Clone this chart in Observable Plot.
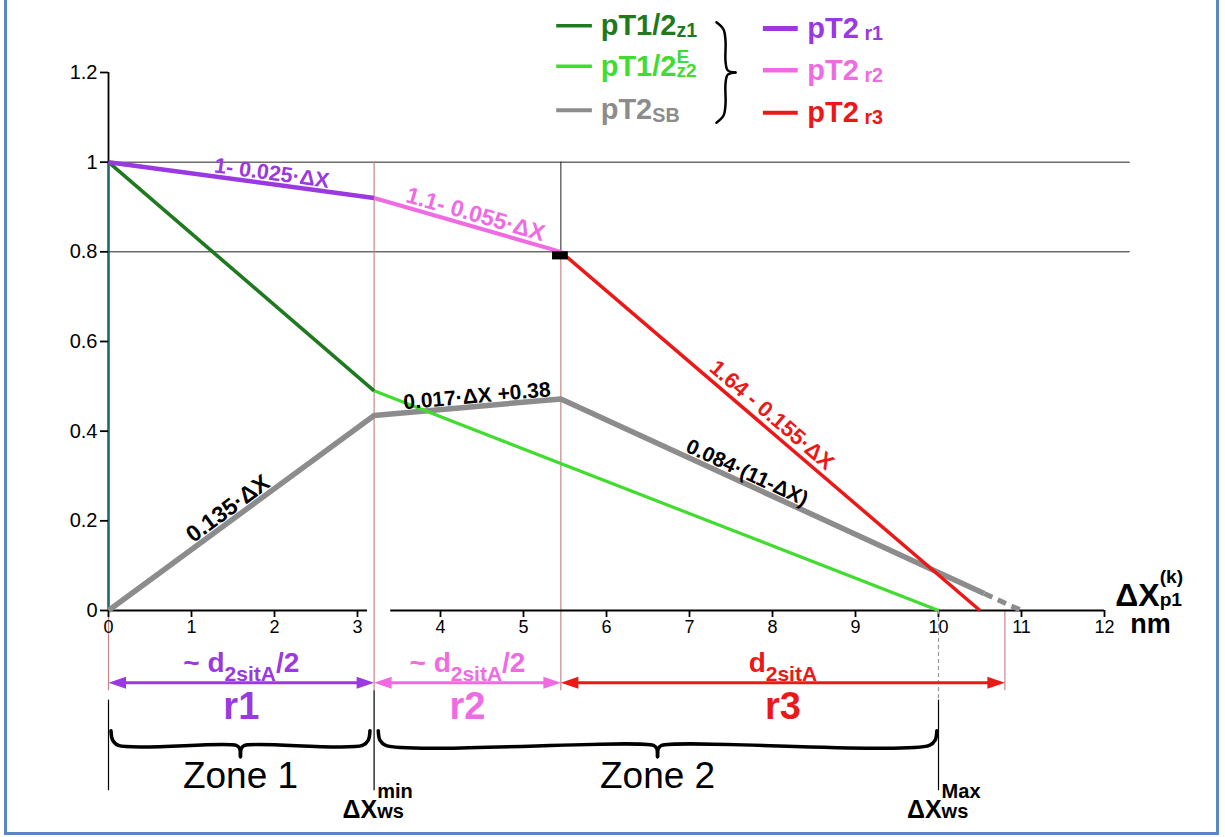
<!DOCTYPE html>
<html><head><meta charset="utf-8">
<script src="https://cdn.jsdelivr.net/npm/d3@7"></script>
<script src="https://cdn.jsdelivr.net/npm/@observablehq/plot@0.6"></script>
<style>
body{margin:0;background:#fff;}
#wrap{position:relative;width:1225px;height:837px;overflow:hidden;}
#frame{position:absolute;left:4px;top:-6px;width:1215px;height:841px;border:3px solid #5a86c8;pointer-events:none;box-sizing:border-box;}
</style></head><body><div id="wrap"><div id="chart"></div><div id="frame"></div></div>
<script>
// ---------- data ----------
const xTicks = [0,1,2,3,4,5,6,7,8,9,10,11,12];
const yTicks = [0,0.2,0.4,0.6,0.8,1,1.2];
const yTickLabels = ["0","0.2","0.4","0.6","0.8","1","1.2"];

const z1X = [0, 3.2],   z1Y = [1, 0.49];          // pT1/2 z1
const z2X = [3.2, 10],  z2Y = [0.49, 0];          // pT1/2 z2 E
const sbX = [0, 3.2, 5.45, 10.55], sbY = [0, 0.435, 0.472, 0.038]; // pT2 SB
const sbTailX = [10.55, 11], sbTailY = [0.038, 0];                 // dashed extrapolation
const r1X = [0, 3.2],    r1Y = [1, 0.92];         // pT2 r1
const r2X = [3.2, 5.45], r2Y = [0.92, 0.8];       // pT2 r2
const r3X = [5.45, 10.5], r3Y = [0.8, 0];         // pT2 r3
const refLevels = [1, 0.8];
const bounds = [0, 3.2, 5.45, 10, 10.8];          // ΔX boundaries (0, min, r2/r3, Max, end of r3)

const lineTexts = ["1- 0.025·ΔX", "1.1- 0.055·ΔX", "1.64 - 0.155·ΔX", "0.135·ΔX", "0.017·ΔX +0.38", "0.084·(11-ΔX)"];
const legendLeft = ["pT1/2_{z1}", "pT1/2^{E}_{z2}", "pT2_{SB}"];
const legendRight = ["pT2_{ r1}", "pT2_{ r2}", "pT2_{ r3}"];
const rangeTexts = ["~ d_{2sitA}/2", "~ d_{2sitA}/2", "d_{2sitA}"];
const rangeNames = ["r1", "r2", "r3"];
const zoneNames = ["Zone 1", "Zone 2"];
const wsTexts = ["ΔX^{min}_{ws}", "ΔX^{Max}_{ws}"];
const xTitle = "ΔX^{(k)}_{p1}", xUnit = "nm";

// ---------- styling ----------
const C = {dg:"#1f7a1f", lg:"#42dc30", gray:"#8c8c8c", pu:"#9a38e2", pk:"#f06ae2", rd:"#ec1818", guide:"#c98585", teal:"#1d6a6a"};
const FN = "'Liberation Sans',Arial,sans-serif";
const W=1225, H=837, mL=108, mR=121, mT=72, mB=227;
const kx=(W-mL-mR)/12, ky=(H-mT-mB)/1.2;

const series = [
  {xs:sbX, ys:sbY, color:C.gray, w:5.5},
  {xs:z2X, ys:z2Y, color:C.lg, w:3.2},
  {xs:z1X, ys:z1Y, color:C.dg, w:3.6},
  {xs:r3X, ys:r3Y, color:C.rd, w:3.5},
  {xs:r2X, ys:r2Y, color:C.pk, w:4},
  {xs:r1X, ys:r1Y, color:C.pu, w:4.5}
];
const pts = (xs, ys) => xs.map((x,i) => ({x, y: ys[i]}));

function labelPos(xs, ys, i, at, off){
  const xa=xs[i], xb=xs[i+1], ya=ys[i], yb=ys[i+1];
  const ux=(xb-xa)*kx, uy=-(yb-ya)*ky, len=Math.hypot(ux,uy);
  const nx=uy/len, ny=-ux/len;
  const y = ya + (at-xa)/(xb-xa)*(yb-ya);
  return {x: at + nx*off/kx, y: y - ny*off/ky, rotate: Math.atan2(uy,ux)*180/Math.PI};
}
const lineLabels = [
  {...labelPos(r1X,r1Y,0,1.95,4), text:lineTexts[0], color:C.pu, st:"italic", fs:21.5},
  {...labelPos(r2X,r2Y,0,4.38,5), text:lineTexts[1], color:C.pk, st:"italic", fs:23},
  {...labelPos(r3X,r3Y,0,7.89,6), text:lineTexts[2], color:C.rd, st:"italic", fs:22},
  {...labelPos(sbX,sbY,0,1.52,4), text:lineTexts[3], color:"#000", st:"normal", fs:23},
  {...labelPos(sbX,sbY,1,4.45,3.5), text:lineTexts[4], color:"#000", st:"normal", fs:21},
  {...labelPos(sbX,sbY,2,7.64,4), text:lineTexts[5], color:"#000", st:"normal", fs:21}
];

// layout levels (data units)
const yGuideBottom = -0.179, yArrow = -0.161, yRangeText = -0.138, yRangeName = -0.243;
const yBlackTop = -0.2, yBlackBottom = -0.402, yZoneText = -0.395, yWs = -0.462;

// arrows
const arrows = [
  {x1:bounds[0], x2:bounds[1], color:C.pu},
  {x1:bounds[1], x2:bounds[2], color:C.pk},
  {x1:bounds[2], x2:bounds[4], color:C.rd}
];
const heads = arrows.flatMap(a => [{x:a.x1, rot:-90, color:a.color}, {x:a.x2, rot:90, color:a.color}]);
const headSymbol = {draw(ctx, size){ const r=Math.sqrt(size/Math.PI); const L=r*2.5, w=r*0.85; ctx.moveTo(0,0); ctx.lineTo(-w,L); ctx.lineTo(w,L); ctx.closePath(); }};

// braces
function hBrace(xa, xb, yTop, yBar, yTip){
  const m=(xa+xb)/2, h=0.09, c=0.05;
  const left=[[xa,yTop],[xa+0.02,yBar+0.012],[xa+h,yBar],[m-c,yBar],[m-0.012,yBar-0.006],[m,yTip]];
  const right=[[xb,yTop],[xb-0.02,yBar+0.012],[xb-h,yBar],[m+c,yBar],[m+0.012,yBar-0.006],[m,yTip]];
  return [left, right];
}
const zoneSpans = [[0.03, 3.15], [3.25, 9.98]];
const braces = zoneSpans.flatMap(([a,b]) => hBrace(a, b, -0.268, -0.301, -0.326))
  .flatMap((p,i) => p.map(([x,y]) => ({x,y,b:i})));
const legendBrace = [[7.325,1.312],[7.41,1.296],[7.434,1.27],[7.434,1.225],[7.46,1.205],[7.554,1.2]];
const lbPts = [legendBrace, legendBrace.map(([x,y]) => [x, 2.4-y])].flatMap((p,i)=>p.map(([x,y])=>({x,y,b:i})));

// legend
const legL = [{y:1.304, color:C.dg, w:3.5},{y:1.214, color:C.lg, w:3.5},{y:1.116, color:C.gray, w:4}].map((d,i)=>({...d, text:legendLeft[i]}));
const legR = [{y:1.298, color:C.pu, w:5},{y:1.205, color:C.pk, w:4.5},{y:1.11, color:C.rd, w:4}].map((d,i)=>({...d, text:legendRight[i]}));

const chart = Plot.plot({
  width: W, height: H,
  marginLeft: mL, marginRight: mR, marginTop: mT, marginBottom: mB,
  x: {domain:[0,12]}, y: {domain:[0,1.2]},
  style: {fontFamily: FN, fontSize: "18px", color:"#000", background:"#fff"},
  marks: [
    Plot.ruleY(refLevels, {y: d=>d, x1: 0, x2: 12.31, stroke:"#222", strokeWidth:1}),
    Plot.ruleX([bounds[2]], {x: d=>d, y1: refLevels[1], y2: refLevels[0], stroke:"#222", strokeWidth:1}),
    Plot.ruleX([{x:bounds[0],t:0},{x:bounds[1],t:refLevels[0]},{x:bounds[2],t:refLevels[1]},{x:bounds[4],t:0}],
      {x:"x", y1:"t", y2:yGuideBottom, stroke:C.guide, strokeWidth:1.2}),
    Plot.ruleX([0], {x:d=>d, y1:0, y2:1.2, stroke:"#000", strokeWidth:1.8}),
    Plot.ruleX([0], {x:d=>d, y1:0, y2:1, stroke:C.teal, strokeWidth:2}),
    Plot.ruleY([{a:0,b:3.12},{a:3.4,b:12}], {y:0, x1:"a", x2:"b", stroke:"#000", strokeWidth:1.8}),
    Plot.axisY({ticks:yTicks, tickFormat:d=>yTickLabels[yTicks.indexOf(d)], tickSize:8, tickPadding:3, strokeWidth:1.8, fontSize:20, label:null}),
    Plot.axisX({ticks:xTicks, tickFormat:d=>String(d), tickSize:7, tickPadding:3, strokeWidth:1.8, fontSize:18, label:null}),
    ...series.map(s => Plot.line(pts(s.xs, s.ys), {x:"x", y:"y", stroke:s.color, strokeWidth:s.w, strokeLinecap:"butt"})),
    Plot.line(pts(sbTailX, sbTailY), {x:"x", y:"y", stroke:C.gray, strokeWidth:5, strokeDasharray:"9,6", strokeLinecap:"butt"}),
    Plot.rect([bounds[2]], {x1:d=>d-0.1, x2:d=>d+0.09, y1:refLevels[1]-0.018, y2:refLevels[1], fill:"#000"}),
    Plot.text(lineLabels, {x:"x", y:"y", text:"text", rotate:"rotate", fill:"color", fontStyle:"st", fontSize:"fs", textAnchor:"middle", lineAnchor:"bottom", fontWeight:"bold"}),
    Plot.ruleX([bounds[3]], {x:d=>d, y1:0, y2:yBlackTop, stroke:"#999", strokeWidth:1.2, strokeDasharray:"4,3"}),
    Plot.ruleX([bounds[0], bounds[1], bounds[3]], {x:d=>d, y1:d=>d===bounds[1]?yGuideBottom:yBlackTop, y2:yBlackBottom, stroke:"#000", strokeWidth:1.2}),
    Plot.ruleY(arrows, {y:yArrow, x1:d=>d.x1, x2:d=>d.x2, stroke:"color", strokeWidth:3, insetLeft:8, insetRight:8}),
    Plot.dot(heads, {x:"x", y:yArrow, rotate:"rot", fill:"color", symbol:headSymbol, r:7, stroke:null}),
    Plot.text(arrows, {x:d=>(d.x1+d.x2)/2, y:yRangeText, text:(d,i)=>rangeTexts[i], fill:"color", fontSize:28, fontWeight:"bold", lineAnchor:"bottom"}),
    Plot.text(arrows, {x:d=>(d.x1+d.x2)/2, y:yRangeName, text:(d,i)=>rangeNames[i], fill:"color", fontSize:38, fontWeight:"bold", lineAnchor:"bottom", ariaLabel:"narrow-range"}),
    Plot.line(braces, {x:"x", y:"y", z:"b", stroke:"#000", strokeWidth:3.5, curve:"catmull-rom"}),
    Plot.text(zoneSpans, {x:d=>(d[0]+d[1])/2, y:yZoneText, text:(d,i)=>zoneNames[i], fontSize:37, fill:"#000", lineAnchor:"bottom", ariaLabel:"narrow-zone"}),
    Plot.text([bounds[1], bounds[3]], {x:d=>d-0.38, y:yWs, text:(d,i)=>wsTexts[i], textAnchor:"start", lineAnchor:"bottom", fontSize:25, fontWeight:"bold", fill:"#000"}),
    Plot.text([xTitle], {x:12.13, y:0.011, text:d=>d, textAnchor:"start", lineAnchor:"bottom", fontSize:32, fontWeight:"bold", fill:"#000"}),
    Plot.text([xUnit], {x:12.31, y:-0.0513, text:d=>d, textAnchor:"start", lineAnchor:"bottom", fontSize:27, fontWeight:"bold", fill:"#000", ariaLabel:"narrow-unit"}),
    Plot.ruleY(legL, {y:"y", x1:5.40, x2:5.83, stroke:"color", strokeWidth:"w"}),
    Plot.text(legL, {x:5.93, y:"y", text:"text", fill:"color", textAnchor:"start", fontSize:29, fontWeight:"bold", ariaLabel:"narrow-legend"}),
    Plot.line(lbPts, {x:"x", y:"y", z:"b", stroke:"#000", strokeWidth:2.5, curve:"catmull-rom"}),
    Plot.ruleY(legR, {y:"y", x1:7.89, x2:8.31, stroke:"color", strokeWidth:"w"}),
    Plot.text(legR, {x:8.42, y:"y", text:"text", fill:"color", textAnchor:"start", fontSize:29, fontWeight:"bold", ariaLabel:"narrow-legend"})
  ]
});
document.getElementById("chart").appendChild(chart);

// sub/superscript markup -> tspans (shifts in em of the parent size)
const richDefault = {sup:0.45, sub:0.08, r:0.68};
const richOpts = {
  "ΔX^{min}_{ws}": {sup:0.8, sub:0.02, r:0.8},
  "ΔX^{Max}_{ws}": {sup:0.8, sub:0.02, r:0.8},
  "ΔX^{(k)}_{p1}": {sup:0.7, sub:0.02, r:0.6},
  "pT1/2^{E}_{z2}": {sup:0.42, sub:0.05, r:0.66},
  "~ d_{2sitA}/2": {sup:0, sub:0.32, r:0.75},
  "d_{2sitA}": {sup:0, sub:0.32, r:0.75}
};
function richify(svg){
  for (const t of svg.querySelectorAll("text")) {
    if (t.children.length) continue;
    const s = t.textContent;
    if (!/[_^]\{/.test(s)) continue;
    const o = richOpts[s] || richDefault;
    const fs = parseFloat(getComputedStyle(t).fontSize) || 16;
    const parts = s.split(/(_\{[^}]*\}|\^\{[^}]*\})/).filter(p => p !== "");
    t.textContent = "";
    let cur = 0, lastSup = null;
    for (const p of parts) {
      const ts = document.createElementNS("http://www.w3.org/2000/svg", "tspan");
      let target = 0, txt = p, small = false;
      if (p.startsWith("_{")) { txt = p.slice(2,-1); target = o.sub*fs; small = true; }
      else if (p.startsWith("^{")) { txt = p.slice(2,-1); target = -o.sup*fs; small = true; }
      ts.textContent = txt;
      if (small) ts.setAttribute("font-size", (o.r*fs).toFixed(1));
      ts.setAttribute("dy", (target - cur).toFixed(2));
      cur = target;
      t.appendChild(ts);
      if (p.startsWith("_{") && lastSup) ts.setAttribute("dx", (-lastSup.getComputedTextLength()).toFixed(2));
      lastSup = p.startsWith("^{") ? ts : null;
    }
  }
}
richify(chart);

// condensed look for some texts (horizontal squeeze around each anchor)
const squeeze = {"narrow-range":0.72, "narrow-zone":0.93, "narrow-unit":0.88, "narrow-legend":0.86};
for (const [label, s] of Object.entries(squeeze)) {
  for (const g of chart.querySelectorAll(`g[aria-label="${label}"]`)) {
    for (const t of g.querySelectorAll("text")) {
      const tr = t.getAttribute("transform");
      if (tr) t.setAttribute("transform", tr + ` scale(${s},1)`);
      else {
        const x = +t.getAttribute("x") || 0, y = +t.getAttribute("y") || 0;
        t.removeAttribute("x"); t.removeAttribute("y");
        t.setAttribute("transform", `translate(${x},${y}) scale(${s},1)`);
      }
    }
  }
}
</script></body></html>
